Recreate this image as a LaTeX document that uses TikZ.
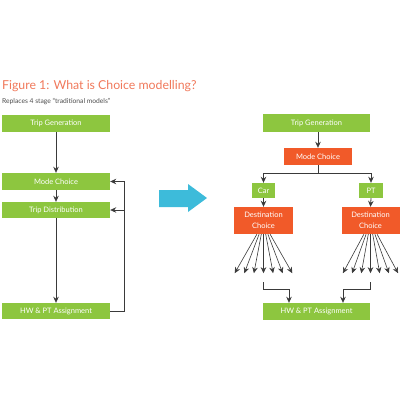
\documentclass[tikz,border=0pt]{standalone}
\usepackage{fontspec}
\setmainfont{Lato}
\usepackage{tikz}
\usetikzlibrary{arrows.meta,positioning,calc}
\definecolor{boxgreen}{HTML}{8DC63F}
\definecolor{boxorange}{HTML}{F15A29}
\definecolor{titleorange}{HTML}{F0785A}
\definecolor{arrowblue}{HTML}{3DBBDA}
\definecolor{linegray}{HTML}{3A3A3A}

\begin{document}
\begin{tikzpicture}[x=1pt,y=-1pt,>={Stealth[length=6pt,width=5.5pt]},
  greenbox/.style={fill=boxgreen, text=white, inner sep=0pt, font=\fontsize{7.5}{11}\selectfont},
  orangebox/.style={fill=boxorange, text=white, inner sep=0pt, align=center, font=\fontsize{7.5}{11}\selectfont},
  flow/.style={draw=linegray, line width=0.8pt},
  fan/.style={draw=linegray, line width=0.6pt}]
\useasboundingbox (0,0) rectangle (400,400);
\node[anchor=base west, inner sep=0pt, text=titleorange, font=\fontsize{12.3}{14}\selectfont] (title) at (2,89) {Figure 1: What is Choice modelling?};
\node[anchor=base west, inner sep=0pt, text=black!70, font=\fontsize{6.7}{8}\selectfont] (subtitle) at (2,103) {Replaces 4 stage “traditional models”};

% four stage model
\node[greenbox, minimum width=108pt, minimum height=17pt] (tripgen) at (56,123.5) {Trip Generation};
\node[greenbox, minimum width=108pt, minimum height=17pt] (modechoice) at (56,181.5) {Mode Choice};
\node[greenbox, minimum width=108pt, minimum height=16pt] (tripdist) at (56,210) {Trip Distribution};
\node[greenbox, minimum width=108pt, minimum height=16pt] (hwassign) at (56,311) {HW \& PT Assignment};
\draw[flow,->] (tripgen.south) -- (modechoice.north);
\draw[flow,->] (modechoice.south) -- (tripdist.north);
\draw[flow,->] (tripdist.south) -- (hwassign.north);
\draw[flow,->] (hwassign.east) -- ++(14,0) coordinate (fbline) |- (modechoice.east);
\draw[flow,->] (fbline |- tripdist.east) -- (tripdist.east);

\fill[arrowblue] (159,190) -- (188,190) -- (188,184) -- (207,198) -- (188,212) -- (188,207) -- (159,207) -- cycle;

% choice model
\node[greenbox, minimum width=107pt, minimum height=18pt] (tripgenR) at (316.5,123) {Trip Generation};
\node[orangebox, minimum width=68pt, minimum height=17pt] (modechoiceR) at (318,156.5) {Mode Choice};
\node[greenbox, minimum width=23pt, minimum height=15pt] (car) at (263.5,190.5) {Car};
\node[greenbox, minimum width=24pt, minimum height=15pt] (pt) at (371,190.5) {PT};
\node[orangebox, minimum width=59pt, minimum height=27pt] (destcar) at (263.5,220.5) {Destination\\Choice};
\node[orangebox, minimum width=58pt, minimum height=27pt] (destpt) at (370.5,220.5) {Destination\\Choice};
\node[greenbox, minimum width=107pt, minimum height=17pt] (hwassignR) at (316.5,311.5) {HW \& PT Assignment};
\draw[flow,->] (tripgenR.south -| modechoiceR.north) -- (modechoiceR.north);
\draw[flow] (modechoiceR.south) -- ++(0,8) coordinate (split);
\draw[flow,->] (split) -| (car.north);
\draw[flow,->] (split) -| (pt.north);
\draw[flow,->] (car.south) -- (destcar.north);
\draw[flow,->] (pt.south) -- (destpt.north);
\foreach \k [count=\n] in {-3,...,3} {
  \coordinate (carzone\n) at ($(destcar.south)+(9.6*\k,39)$);
  \coordinate (ptzone\n) at ($(destpt.south)+(9.2*\k,39)$);
  \draw[fan,->] ($(destcar.south)+(2.2*\k,0)$) -- (carzone\n);
  \draw[fan,->] ($(destpt.south)+(2.2*\k,0)$) -- (ptzone\n);
}
\coordinate (carjoin) at ($(destcar.south)+(0,48)$);
\coordinate (ptjoin) at ($(destpt.south)+(0,48)$);
\draw[flow,->] (carjoin) -- ++(0,7) -| ([xshift=-27.5pt]hwassignR.north);
\draw[flow,->] (ptjoin) -- ++(0,7) -| ([xshift=26.5pt]hwassignR.north);
\end{tikzpicture}
\end{document}
